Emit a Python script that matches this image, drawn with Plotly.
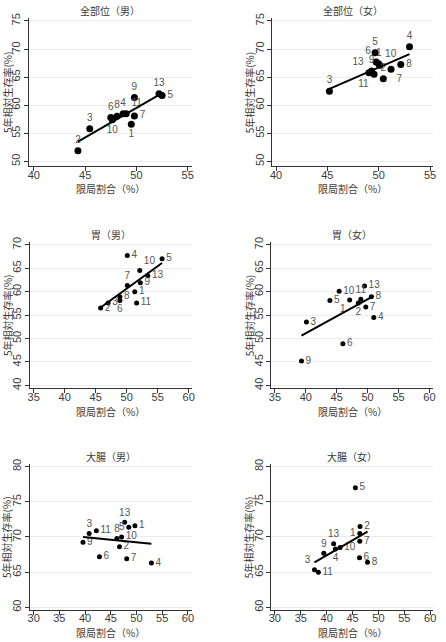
import numpy as np
import plotly.graph_objects as go

# ---------------- data ----------------
titles = ["全部位（男）", "全部位（女）", "胃（男）", "胃（女）", "大腸（男）", "大腸（女）"]
x_title = "限局割合（%）"
y_title = "5年相対生存率(%)"

ids_all_m = [1, 2, 3, 4, 5, 6, 7, 8, 9, 10, 11, 13]
x_all_m = [49.5, 44.3, 45.45, 48.7, 52.5, 47.5, 49.8, 48.1, 49.8, 47.65, 49.0, 52.2]
y_all_m = [56.6, 51.9, 55.8, 58.5, 61.75, 57.8, 58.1, 58.05, 61.4, 57.4, 58.5, 62.05]

ids_all_f = [1, 2, 3, 4, 5, 6, 7, 8, 9, 10, 11, 13]
x_all_f = [50.0, 50.45, 45.2, 53.0, 49.65, 49.75, 51.2, 52.15, 49.3, 50.1, 49.55, 49.05]
y_all_f = [67.4, 64.7, 62.5, 70.4, 69.35, 67.7, 66.4, 67.25, 66.1, 67.1, 65.5, 65.8]

ids_st_m = [1, 2, 3, 4, 5, 6, 7, 8, 9, 10, 11, 13]
x_st_m = [51.3, 45.8, 47.0, 50.1, 55.7, 48.9, 50.1, 48.9, 52.2, 52.1, 51.6, 53.4]
y_st_m = [60.0, 56.5, 57.6, 67.7, 67.0, 58.1, 61.3, 58.9, 61.9, 64.5, 57.6, 63.4]

ids_st_f = [1, 2, 3, 4, 5, 6, 7, 8, 9, 10, 11, 13]
x_st_f = [47.1, 48.5, 40.1, 51.0, 43.9, 46.0, 49.7, 50.6, 39.3, 45.4, 48.9, 49.5]
y_st_f = [58.2, 57.6, 53.5, 54.5, 58.1, 48.9, 56.7, 58.9, 45.2, 60.1, 58.4, 61.2]

ids_co_m = [1, 2, 3, 4, 5, 6, 7, 8, 9, 10, 11, 13]
x_co_m = [49.7, 46.7, 40.8, 52.9, 48.5, 42.8, 48.1, 46.2, 39.6, 47.1, 42.2, 47.7]
y_co_m = [71.6, 68.6, 70.5, 66.3, 71.4, 67.2, 66.9, 69.8, 69.25, 70.0, 70.9, 72.1]

ids_co_f = [1, 2, 3, 4, 5, 6, 7, 8, 9, 10, 11, 13]
x_co_f = [46.4, 46.45, 37.65, 41.7, 45.55, 46.35, 46.4, 47.9, 39.45, 42.6, 38.4, 41.35]
y_co_f = [70.5, 71.5, 65.35, 68.3, 77.0, 67.05, 69.4, 66.4, 67.7, 68.5, 65.0, 69.05]

panels_data = [
    (ids_all_m, x_all_m, y_all_m),
    (ids_all_f, x_all_f, y_all_f),
    (ids_st_m, x_st_m, y_st_m),
    (ids_st_f, x_st_f, y_st_f),
    (ids_co_m, x_co_m, y_co_m),
    (ids_co_f, x_co_f, y_co_f),
]

x_ticks = [[40, 45, 50, 55], [40, 45, 50, 55],
           [35, 40, 45, 50, 55, 60], [35, 40, 45, 50, 55, 60],
           [30, 35, 40, 45, 50, 55, 60], [30, 35, 40, 45, 50, 55, 60]]
y_ticks = [[50, 55, 60, 65, 70, 75], [50, 55, 60, 65, 70, 75],
           [40, 45, 50, 55, 60, 65, 70], [40, 45, 50, 55, 60, 65, 70],
           [60, 65, 70, 75, 80], [60, 65, 70, 75, 80]]

# ---------------- styling ----------------
W, H = 446, 642
x_ranges = [[39.5, 55.4], [39.6, 55.3], [34.36, 60.5], [34.36, 60.6], [29.23, 60.77], [29.24, 60.57]]
y_ranges = [[49.1, 75.55], [49.1, 75.55], [39.37, 70.63], [39.37, 70.63], [59.58, 80.42], [59.58, 80.42]]
x_px = [(27, 192), (273, 436), (28, 192), (272, 436), (28, 192), (272, 436)]
y_px = [(13, 163), (13, 163), (239, 387), (239, 387), (463, 611), (463, 611)]
title_px = [6, 6, 232, 232, 456, 456]
xtitle_px = [185, 185, 410, 410, 633, 633]
ytitle_px = [5, 250, 5, 250, 5, 250]
marker_sizes = [7, 7, 5, 5, 5, 5]

label_pos = [
    {1: "bottom center", 2: "top center", 3: "top center", 4: "top center", 5: "middle right",
     6: "top center", 7: "middle right", 8: "top center", 9: "top center", 10: "bottom center",
     11: "top right", 13: "top center"},
    {1: "top center", 2: "top center", 3: "top center", 4: "top center", 5: "top center",
     6: "top left", 7: "bottom right", 8: "middle right", 9: "top center", 10: "top right",
     11: "bottom left", 13: "top left"},
    {1: "middle right", 2: "middle right", 3: "middle right", 4: "middle right", 5: "middle right",
     6: "bottom center", 7: "top center", 8: "middle right", 9: "middle right", 10: "top right",
     11: "middle right", 13: "middle right"},
    {1: "bottom left", 2: "bottom center", 3: "middle right", 4: "middle right", 5: "middle right",
     6: "middle right", 7: "middle right", 8: "middle right", 9: "middle right", 10: "middle right",
     11: "top center", 13: "middle right"},
    {1: "middle right", 2: "middle right", 3: "top center", 4: "middle right", 5: "middle left",
     6: "middle right", 7: "middle right", 8: "top center", 9: "middle right", 10: "middle right",
     11: "middle right", 13: "top center"},
    {1: "middle left", 2: "middle right", 3: "top left", 4: "bottom center", 5: "middle right",
     6: "middle right", 7: "middle right", 8: "middle right", 9: "top center", 10: "middle right",
     11: "middle right", 13: "top center"},
]

CJK = "Noto Sans CJK JP, sans-serif"
NUM = "Liberation Sans, Arial, sans-serif"
TEXT_COL = "#3a3a3a"
LBL_COL = "#555555"

fig = go.Figure()
layout = dict(
    width=W, height=H, margin=dict(l=0, r=0, t=0, b=0),
    paper_bgcolor="white", plot_bgcolor="white", showlegend=False,
    font=dict(family=NUM, color=TEXT_COL, size=11),
)
annotations = []

for i, (ids, xs, ys) in enumerate(panels_data):
    k = i + 1
    xa = "x" if k == 1 else f"x{k}"
    ya = "y" if k == 1 else f"y{k}"
    xs_a = np.array(xs, dtype=float)
    ys_a = np.array(ys, dtype=float)

    fig.add_trace(go.Scatter(
        x=xs, y=ys, mode="markers+text", xaxis=xa, yaxis=ya,
        text=[str(v) for v in ids],
        textposition=[label_pos[i][v] for v in ids],
        textfont=dict(size=10, color=LBL_COL, family=NUM),
        marker=dict(size=marker_sizes[i], color="black"),
        cliponaxis=False, hoverinfo="skip",
    ))
    slope, intercept = np.polyfit(xs_a, ys_a, 1)
    lx = np.array([xs_a.min(), xs_a.max()])
    fig.add_trace(go.Scatter(
        x=lx, y=slope * lx + intercept, mode="lines", xaxis=xa, yaxis=ya,
        line=dict(color="black", width=2), hoverinfo="skip",
    ))

    x0, x1 = x_px[i]
    yt, yb = y_px[i]
    xdom = [x0 / W, x1 / W]
    ydom = [1 - yb / H, 1 - yt / H]
    axis_common = dict(
        showline=True, linecolor="#333333", linewidth=1,
        ticks="outside", ticklen=4, tickcolor="#333333",
        tickfont=dict(size=11, color=TEXT_COL, family=NUM),
        zeroline=False,
    )
    layout["xaxis" if k == 1 else f"xaxis{k}"] = dict(
        domain=xdom, range=x_ranges[i], tickvals=x_ticks[i], showgrid=False,
        anchor=ya, ticklabelstandoff=-6, **axis_common,
    )
    layout["yaxis" if k == 1 else f"yaxis{k}"] = dict(
        domain=ydom, range=y_ranges[i], tickvals=y_ticks[i], showgrid=True,
        gridcolor="#ececec", gridwidth=1, tickangle=-90, anchor=xa,
        ticklabelstandoff=-1, **axis_common,
    )
    xc = (xdom[0] + xdom[1]) / 2
    annotations.append(dict(
        text=titles[i], x=xc, y=1 - title_px[i] / H, xref="paper", yref="paper",
        xanchor="center", yanchor="middle", showarrow=False,
        font=dict(size=10, color=TEXT_COL, family=CJK),
    ))
    annotations.append(dict(
        text=x_title, x=xc, y=1 - xtitle_px[i] / H, xref="paper", yref="paper",
        xanchor="center", yanchor="middle", showarrow=False,
        font=dict(size=10, color=TEXT_COL, family=CJK),
    ))
    annotations.append(dict(
        text=y_title, x=ytitle_px[i] / W, y=(ydom[0] + ydom[1]) / 2, xref="paper", yref="paper",
        xanchor="center", yanchor="middle", showarrow=False, textangle=-90,
        font=dict(size=10, color=TEXT_COL, family=CJK),
    ))

layout["annotations"] = annotations
fig.update_layout(**layout)
fig.write_html("out.html")
